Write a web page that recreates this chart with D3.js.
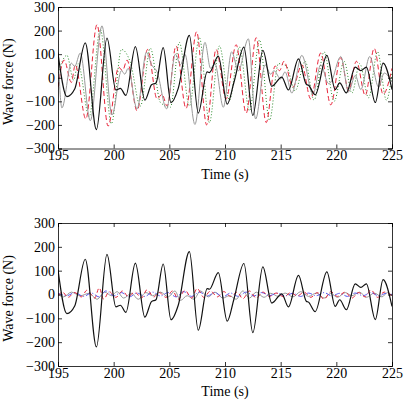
<!DOCTYPE html>
<html>
<head>
<meta charset="utf-8">
<script src="https://cdn.jsdelivr.net/npm/d3@7"></script>
<style>
  body { margin: 0; background: #fff; }
  svg { display: block; }
  svg text { font-family: "Liberation Serif", "Times New Roman", Times, "DejaVu Serif", serif; font-size: 14px; fill: #000; }
  .axis path, .axis line { stroke: #000; stroke-width: 0.8; }
</style>
</head>
<body>
<div id="chart"></div>
<script>
// tick labels
var xTicks = [195, 200, 205, 210, 215, 220, 225];
var yTicks = [-300, -200, -100, 0, 100, 200, 300];

// total wave force (black), read as turning points [time, force]
var totalForce = [
  [195, 104], [195.8, -80], [196.5, -48], [197.45, 148], [198.45, -220], [199.4, 168],
  [200.2, -52], [200.6, -45], [201.1, -75], [201.95, 132], [202.8, -95], [203.4, -30],
  [203.8, -22], [204.45, 128], [205.15, -106], [205.8, -45], [206.8, 180], [207.6, -150],
  [208.4, 25], [208.6, 22], [209.4, 92], [210.2, -112], [210.8, -20], [211.7, 130],
  [212.5, -160], [213.4, 116], [214.2, -36], [215.1, 3], [215.7, -52], [216.6, 80],
  [217.3, -28], [217.5, -32], [218.1, -72], [219.15, 95], [219.9, -50], [220.3, -22],
  [220.9, -64], [221.7, 45], [222.2, 30], [222.7, 45], [223.5, -105], [224.2, 62], [225, -50]
];

// top panel components
var grayTop = [
  [195, 110], [195.35, -128], [196.2, 62], [196.5, 48], [197.0, 105], [197.9, -182],
  [198.95, 220], [199.85, -158], [200.7, 30], [201.0, 15], [201.3, 40], [202.1, -132],
  [202.95, 108], [203.4, 55], [203.9, 25], [204.75, -132], [205.55, 100], [206.0, 55],
  [206.4, 100], [207.3, -198], [208.2, 150], [208.7, 40], [209.1, 60], [209.85, -125],
  [210.6, 110], [211.2, 30], [212.1, 165], [212.75, -175], [213.6, 55], [214.1, 15],
  [214.4, 30], [215.0, -5], [215.4, 25], [216.0, -65], [216.9, 95], [217.9, -70],
  [218.6, 55], [219.3, -25], [219.5, -20], [220.4, 90], [221.1, -60], [221.7, 10],
  [222.2, -50], [223.0, 90], [223.8, -40], [224.3, 20], [225, -20]
];
var redTop = [
  [195, -40], [195.55, 75], [196.2, -20], [196.55, 55], [197.5, -175], [198.5, 225],
  [199.5, -205], [200.45, 45], [200.8, 30], [201.2, 75], [202.1, -140], [203.05, 120],
  [203.9, -90], [204.35, -70], [204.8, -120], [205.6, 135], [206.5, -130], [207.45, 195],
  [208.35, -200], [209.2, 120], [210.1, -90], [211.0, 140], [211.9, -150], [212.8, 170],
  [213.7, -190], [214.5, 50], [214.9, 30], [215.3, 70], [216.1, -40], [216.9, 55],
  [217.7, -90], [218.6, 105], [219.5, -115], [220.4, 85], [221.1, -55], [221.8, 70],
  [222.6, -75], [223.4, 125], [224.2, -70], [225, 40]
];
var greenTop = [
  [195, 20], [195.8, 95], [196.4, -10], [196.8, 60], [197.8, -165], [198.8, 205],
  [199.8, -195], [200.7, 120], [201.5, 65], [202.4, -120], [203.3, 125], [204.2, -105],
  [205.1, -125], [205.9, 150], [206.8, -120], [207.7, 170], [208.6, -190], [209.5, 135],
  [210.4, -95], [211.3, 130], [212.2, -140], [213.1, 160], [214.0, -180], [214.8, 60],
  [215.5, 50], [216.3, -55], [217.2, 70], [218.0, -95], [218.9, 110], [219.8, -100],
  [220.7, 70], [221.4, -65], [222.1, 60], [222.9, -85], [223.7, 110], [224.5, -95], [225, 20]
];

// bottom panel components
var grayBottom = [
  [195, 0], [195.5, -10], [196.2, 10], [197, -5], [197.8, 5], [198.5, -20], [199.2, 10],
  [199.8, -5], [200.3, 12], [200.9, -15], [201.6, 5], [202.2, -20], [202.9, 8], [203.5, -5],
  [204.2, 10], [204.9, -10], [205.5, 15], [206.0, -25], [206.6, -5], [207.2, -20], [207.8, 15],
  [208.5, -10], [209.1, 10], [209.8, -15], [210.4, -5], [211.0, -20], [211.6, 15], [212.2, -15],
  [212.8, 10], [213.5, -12], [214.1, 5], [214.8, -8], [215.4, 6], [216.1, -10], [216.8, 12],
  [217.5, -8], [218.2, 6], [218.9, -15], [219.5, 5], [220.1, -12], [220.8, 8], [221.4, -5],
  [222.1, 10], [222.7, -12], [223.4, 6], [224.1, -10], [224.6, 8], [225, -5]
];
var redBottom = [
  [195, -5], [195.4, 10], [195.9, -12], [196.5, 8], [197.1, -10], [197.6, 18], [198.3, -15],
  [198.7, 28], [199.1, -20], [199.6, 12], [200.2, -12], [200.8, 15], [201.3, -8], [201.9, 10],
  [202.5, -15], [203.0, 20], [203.6, -10], [204.1, 8], [204.7, -12], [205.3, 15], [205.8, -20],
  [206.4, 18], [207.0, -15], [207.5, 25], [208.1, -12], [208.7, 15], [209.3, -10], [209.9, 12],
  [210.5, -8], [211.1, 10], [211.6, -18], [212.2, 15], [212.8, -15], [213.4, 10], [214.0, -8],
  [214.6, 6], [215.3, -10], [215.9, 8], [216.5, -6], [217.1, 10], [217.7, -12], [218.3, 8],
  [218.9, -20], [219.5, 12], [220.1, -8], [220.8, 10], [221.4, -15], [222.0, 8], [222.6, -10],
  [223.1, 20], [223.7, -12], [224.3, 10], [225, -5]
];
var blueBottom = [
  [195, 5], [195.8, -5], [196.5, 8], [197.3, -8], [198.0, 6], [198.7, -10], [199.3, 15],
  [200.0, -5], [200.7, 8], [201.4, -10], [202.1, 6], [202.8, -8], [203.5, 10], [204.2, -6],
  [204.9, 8], [205.6, -10], [206.3, 12], [207.0, -8], [207.7, 10], [208.4, -6], [209.1, 8],
  [209.8, -10], [210.5, 6], [211.2, -8], [211.9, 10], [212.6, -6], [213.3, 8], [214.0, -5],
  [214.7, 6], [215.4, -6], [216.1, 5], [216.8, -8], [217.5, 6], [218.2, -5], [218.9, 8],
  [219.6, -6], [220.3, 5], [221.0, -8], [221.7, 6], [222.4, -5], [223.1, 8], [223.8, -6],
  [224.5, 5], [225, 0]
];

var svg = d3.select("#chart").append("svg")
  .attr("width", 404)
  .attr("height", 404);

var left = 58, right = 392;

function drawPanel(top, bottom, series) {
  var x = d3.scaleLinear().domain([195, 225]).range([left, right]);
  var y = d3.scaleLinear().domain([-300, 300]).range([bottom, top]);
  var g = svg.append("g");

  var clipId = "clip" + Math.round(top);
  g.append("clipPath").attr("id", clipId)
    .append("rect")
    .attr("x", left).attr("y", top)
    .attr("width", right - left).attr("height", bottom - top);

  var line = d3.line()
    .x(d => x(d[0]))
    .y(d => y(d[1]))
    .curve(d3.curveMonotoneX);

  var plot = g.append("g").attr("clip-path", "url(#" + clipId + ")");
  series.forEach(function(s) {
    plot.append("path")
      .datum(s.data)
      .attr("d", line)
      .attr("fill", "none")
      .attr("stroke", s.color)
      .attr("stroke-width", s.width)
      .attr("stroke-dasharray", s.dash);
  });

  // axes, ticks pointing inward on all four sides
  g.append("g").attr("class", "axis")
    .attr("transform", "translate(0," + bottom + ")")
    .call(d3.axisBottom(x).tickValues(xTicks).tickSize(-4).tickPadding(2).tickFormat(d3.format("d")));
  g.append("g").attr("class", "axis")
    .attr("transform", "translate(0," + top + ")")
    .call(d3.axisTop(x).tickValues(xTicks).tickSize(-4).tickFormat(""));
  g.append("g").attr("class", "axis")
    .attr("transform", "translate(" + left + ",0)")
    .call(d3.axisLeft(y).tickValues(yTicks).tickSize(-4).tickPadding(3)
      .tickFormat(d => d < 0 ? "\u2212" + Math.abs(d) : d));
  g.append("g").attr("class", "axis")
    .attr("transform", "translate(" + right + ",0)")
    .call(d3.axisRight(y).tickValues(yTicks).tickSize(-4).tickFormat(""));

  g.selectAll(".axis").attr("font-family", null).attr("font-size", null);
  g.selectAll(".axis .domain").attr("stroke-width", 1);

  // axis labels
  g.append("text")
    .attr("x", (left + right) / 2)
    .attr("y", bottom + 30)
    .attr("text-anchor", "middle")
    .text("Time (s)");

  g.append("text")
    .attr("transform", "rotate(-90)")
    .attr("x", -((top + bottom) / 2 + 4))
    .attr("y", 13)
    .attr("text-anchor", "middle")
    .text("Wave force (N)");
}

drawPanel(7, 148.5, [
  {data: greenTop, color: "#2e8b2e", width: 1, dash: "1,2"},
  {data: redTop, color: "#e8253a", width: 1, dash: "5,3"},
  {data: grayTop, color: "#999", width: 1, dash: null},
  {data: totalForce, color: "#111", width: 1.2, dash: null}
]);

drawPanel(223, 366, [
  {data: grayBottom, color: "#999", width: 1, dash: null},
  {data: blueBottom, color: "#5555ee", width: 1, dash: "5,2,1,2"},
  {data: redBottom, color: "#e8253a", width: 1, dash: "4,3"},
  {data: totalForce, color: "#111", width: 1.2, dash: null}
]);
</script>
</body>
</html>
